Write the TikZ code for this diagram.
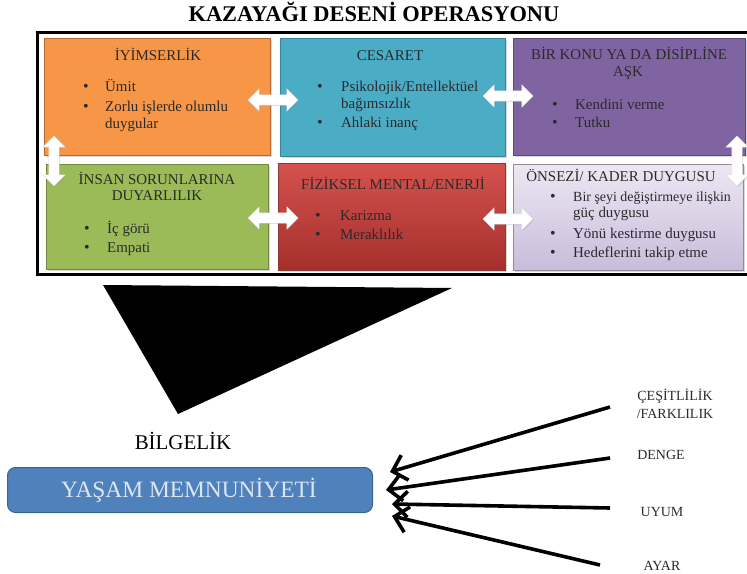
\documentclass[tikz,border=0pt]{standalone}
\usepackage{fontspec}
\setmainfont{Liberation Serif}
\usetikzlibrary{shapes.arrows,shadows,arrows.meta}
\definecolor{cOr}{HTML}{F79646}
\definecolor{cOrB}{HTML}{B46A30}
\definecolor{cBl}{HTML}{4BACC6}
\definecolor{cBlB}{HTML}{3A8398}
\definecolor{cPu}{HTML}{8064A2}
\definecolor{cPuB}{HTML}{5C4776}
\definecolor{cGr}{HTML}{9BBB59}
\definecolor{cGrB}{HTML}{71893F}
\definecolor{cReT}{HTML}{D4524D}
\definecolor{cReB}{HTML}{A52F2C}
\definecolor{cReD}{HTML}{8C3836}
\definecolor{cLaT}{HTML}{ECE7F2}
\definecolor{cLaB}{HTML}{C9BCDC}
\definecolor{cLaD}{HTML}{8E8A98}
\definecolor{cYs}{HTML}{4F81BD}
\definecolor{cYsB}{HTML}{3A6496}
\definecolor{cYsT}{HTML}{DDE5F1}
\definecolor{txtc}{HTML}{2A2A2A}
\begin{document}
\begin{tikzpicture}[x=1bp,y=-1bp,
  box/.style={draw, line width=1.3bp, anchor=north west, inner sep=0pt,
    drop shadow={opacity=0.3, shadow xshift=1.5bp, shadow yshift=-1.5bp}},
  ttl/.style={font=\fontsize{15}{18}\selectfont, text=txtc, inner sep=0pt, anchor=base},
  itm/.style={font=\fontsize{15}{18}\selectfont, text=txtc, inner sep=0pt, anchor=base west},
  bul/.style={font=\fontsize{16}{18}\selectfont, text=txtc, inner sep=0pt, anchor=base},
  darr/.style={double arrow, fill=white, draw=gray!25, line width=0.4bp,
    minimum width=22bp, minimum height=50bp, inner sep=5bp,
    double arrow head extend=6bp,
    drop shadow={opacity=0.25, shadow xshift=1bp, shadow yshift=-1bp}},
  barrow/.style={line width=3.6bp, -{Straight Barb[length=13bp,width=26bp,line width=3.6bp]}},
  lab/.style={font=\fontsize{14}{16}\selectfont, text=txtc, inner sep=0pt, anchor=base},
]
\useasboundingbox (0,0) rectangle (747,574);

% title
\node[font=\fontsize{22.5}{26}\selectfont\bfseries, inner sep=0pt, anchor=base] (title) at (374,22) {KAZAYAĞI DESENİ OPERASYONU};

% frame
\draw[line width=3bp] (37,33) rectangle (752,274);

% boxes
\node[box, fill=cOr, draw=cOrB, minimum width=226bp, minimum height=117bp] (b1) at (44,38) {};
\node[box, fill=cBl, draw=cBlB, minimum width=225bp, minimum height=118bp] (b2) at (280,38) {};
\node[box, fill=cPu, draw=cPuB, minimum width=232bp, minimum height=117bp] (b3) at (513,38) {};
\node[box, fill=cGr, draw=cGrB, minimum width=222bp, minimum height=105bp] (b4) at (46,164) {};
\node[box, top color=cReT, bottom color=cReB, draw=cReD, minimum width=227bp, minimum height=107bp] (b5) at (278,163) {};
\node[box, top color=cLaT, bottom color=cLaB, draw=cLaD, line width=1bp, minimum width=230bp, minimum height=106bp] (b6) at (513,164) {};

% orange
\node[ttl] (t1) at (158,61) {İYİMSERLİK};
\node[bul] (t1b1) at (86,92) {\textbullet};
\node[itm] (t1i1) at (105,92) {Ümit};
\node[bul] (t1b2) at (86,112) {\textbullet};
\node[itm] (t1i2) at (105,112) {Zorlu işlerde olumlu};
\node[itm] (t1i3) at (105,129) {duygular};

% blue
\node[ttl] (t2) at (390,61) {CESARET};
\node[bul] (t2b1) at (320,92) {\textbullet};
\node[itm] (t2i1) at (341,92) {Psikolojik/Entellektüel};
\node[itm] (t2i2) at (341,109) {bağımsızlık};
\node[bul] (t2b2) at (320,128) {\textbullet};
\node[itm] (t2i3) at (341,128) {Ahlaki inanç};

% purple
\node[ttl] (t3a) at (629,60) {BİR KONU YA DA DİSİPLİNE};
\node[ttl] (t3b) at (628,77) {AŞK};
\node[bul] (t3b1) at (555,110) {\textbullet};
\node[itm] (t3i1) at (575,110) {Kendini verme};
\node[bul] (t3b2) at (555,128) {\textbullet};
\node[itm] (t3i2) at (575,128) {Tutku};

% green
\node[ttl] (t4a) at (157,185) {İNSAN SORUNLARINA};
\node[ttl] (t4b) at (157,201) {DUYARLILIK};
\node[bul] (t4b1) at (87,233) {\textbullet};
\node[itm] (t4i1) at (107,233) {İç görü};
\node[bul] (t4b2) at (87,252) {\textbullet};
\node[itm] (t4i2) at (107,252) {Empati};

% red
\node[ttl] (t5) at (393,190) {FİZİKSEL MENTAL/ENERJİ};
\node[bul] (t5b1) at (318,221) {\textbullet};
\node[itm] (t5i1) at (340,221) {Karizma};
\node[bul] (t5b2) at (318,239) {\textbullet};
\node[itm] (t5i2) at (340,239) {Meraklılık};

% lavender
\node[ttl] (t6) at (621,182) {ÖNSEZİ/ KADER DUYGUSU};
\node[bul] (t6b1) at (553,202) {\textbullet};
\node[itm, font=\fontsize{14}{18}\selectfont] (t6i1) at (573,202) {Bir şeyi değiştirmeye ilişkin};
\node[itm] (t6i2) at (573,218) {güç duygusu};
\node[bul] (t6b2) at (553,238) {\textbullet};
\node[itm] (t6i3) at (573,238) {Yönü kestirme duygusu};
\node[bul] (t6b3) at (553,257) {\textbullet};
\node[itm] (t6i4) at (573,257) {Hedeflerini takip etme};

% double arrows
\node[darr] (d1) at (273,100) {};
\node[darr] (d2) at (508,96) {};
\node[darr] (d3) at (273,218) {};
\node[darr] (d4) at (508,219) {};
\node[darr, rotate=90] (d5) at (54,161) {};
\node[darr, rotate=90] (d6) at (737,161) {};

% triangle
\fill (103,285) -- (452,288) -- (178,414) -- cycle;

% bottom
\node[font=\fontsize{21}{24}\selectfont, inner sep=0pt, anchor=base] (bil) at (183,449) {BİLGELİK};
\node[draw=cYsB, line width=1bp, fill=cYs, rounded corners=8bp, anchor=north west,
      minimum width=365bp, minimum height=45bp, inner sep=0pt] (ys) at (7,467) {};
\node[font=\fontsize{23.5}{26}\selectfont, text=cYsT, inner sep=0pt, anchor=base] (yst) at (189,497) {YAŞAM MEMNUNİYETİ};

\node[lab] (l1) at (675,400) {ÇEŞİTLİLİK};
\node[lab] (l2) at (675,418) {/FARKLILIK};
\node[lab] (l3) at (661,459) {DENGE};
\node[lab] (l4) at (662,516) {UYUM};
\node[lab] (l5) at (662,570) {AYAR};

\coordinate (s1) at (610,407);
\coordinate (s2) at (610,458);
\coordinate (s3) at (610,508);
\coordinate (s4) at (600,565);
\coordinate (e1) at (390,472);
\coordinate (e2) at (386,490);
\coordinate (e3) at (392,504);
\coordinate (e4) at (392,516);
\draw[barrow] (s1) -- (e1);
\draw[barrow] (s2) -- (e2);
\draw[barrow] (s3) -- (e3);
\draw[barrow] (s4) -- (e4);
\end{tikzpicture}
\end{document}
